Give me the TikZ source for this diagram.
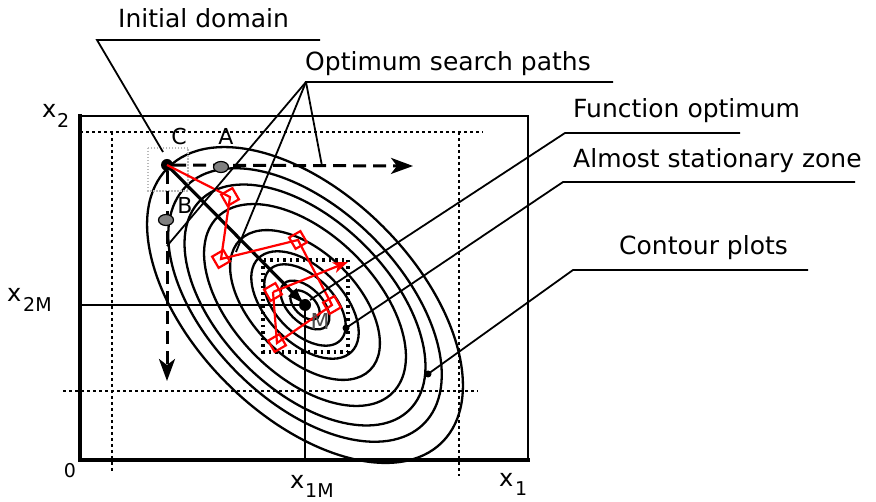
\documentclass[tikz,border=0pt]{standalone}
\usepackage{fontspec}
\setmainfont{DejaVu Sans}
\usetikzlibrary{arrows.meta,calc,shapes.geometric}

\tikzset{
  frameedge/.style={line width=2pt},
  frameaxis/.style={line width=3.5pt},
  contour/.style={line width=2.3pt},
  leader/.style={line width=1.8pt},
  guide/.style={line width=1.6pt, dash pattern=on 3pt off 3pt},
  zonebox/.style={line width=3.2pt, dash pattern=on 2.5pt off 4pt},
  searcharrow/.style={line width=3pt, dash pattern=on 13pt off 7pt,
    -{Stealth[length=22pt,width=16pt,inset=6pt]}},
  redpath/.style={red, line width=2.2pt},
  probe/.style={draw=red, line width=2.2pt, rectangle, minimum size=13pt,
    inner sep=0pt, rotate=30},
  caption/.style={font=\fontsize{25}{30}\selectfont, inner sep=0pt, anchor=base west},
  axislabel/.style={font=\fontsize{24}{28}\selectfont, inner sep=0pt, anchor=base west},
  sublabel/.style={font=\fontsize{19}{22}\selectfont, inner sep=0pt, anchor=base west},
  ptlabel/.style={font=\fontsize{22}{26}\selectfont, inner sep=0pt},
  bigdot/.style={circle, fill=black, minimum size=12pt, inner sep=0pt},
  smalldot/.style={circle, fill=black, minimum size=7pt, inner sep=0pt},
  trial/.style={ellipse, draw=black, fill=black!50, line width=1.2pt,
    minimum width=15pt, minimum height=11pt, inner sep=0pt},
}

\begin{document}
\begin{tikzpicture}[x=1pt,y=-1pt]
  \useasboundingbox (0,0) rectangle (876,502);

  % centre of the contour family
  \coordinate (O) at (305,305);

  % contour plots around the optimum
  \foreach \a in {18,30,50,66,92,124,148,168,194}
    \draw[contour, rotate around={-45:(O)}] (O) ellipse [x radius=\a, y radius={0.57*\a}];

  % frame of the search domain
  \draw[frameedge] (80,116) -- (528,116) -- (528,460);
  \draw[frameaxis, line cap=rect] (80,116) -- (80,460) -- (528,460);

  % dotted bounds of the domain
  \draw[guide] (80,132) -- (483,132);
  \draw[guide] (112,132) -- (112,473);
  \draw[guide] (459,132) -- (459,476);
  \draw[guide] (63,391) -- (478,391);

  % almost stationary zone
  \draw[zonebox] (263,260) rectangle (348,352);

  % initial domain box
  \draw[gray!55, line width=1.6pt, dash pattern=on 1.5pt off 1.5pt] (148,148) rectangle (188,191);

  % optimum and its coordinates
  \node[bigdot] (M) at (O) {};
  \draw[line width=1.6pt] (80,305) -- (M.center) -- (305,460);

  % start point and one-variable searches
  \node[bigdot] (C) at (167,165) {};
  \coordinate (htip) at (413,166);
  \coordinate (vtip) at (167,381);
  \draw[searcharrow] (C) -- (htip);
  \draw[searcharrow] (C) -- (vtip);
  \node[trial] (A) at (221,167) {};
  \node[trial] (B) at (166,220) {};

  % direct path to the optimum
  \draw[line width=3.2pt, -{Latex[length=18pt,width=12pt]}] (C.center) -- (M.center);

  % simplex-like search path
  \node[probe] (d1) at (230,197) {};
  \node[probe] (d2) at (221,259) {};
  \node[probe] (d3) at (298,240) {};
  \node[probe] (d4) at (332,305) {};
  \node[probe] (d5) at (277,343) {};
  \node[probe] (d6) at (273,292) {};
  \coordinate (rtip) at (348,262);
  \draw[redpath] (C.center) -- (d1.center) -- (d2.center) -- (d3.center)
    -- (d4.center) -- (d5.center) -- (d6.center);
  \draw[redpath, -{Stealth[length=15pt,width=11pt,inset=4pt]}] (d6.center) -- (rtip);

  % point labels
  \node[ptlabel] (lc) at (179,136) {C};
  \node[ptlabel] (la) at (226,136) {A};
  \node[ptlabel] (lb) at (185,205) {B};
  \node[ptlabel, text=black!70] (lm) at (320,321) {M};

  % marked contour points
  \node[smalldot] (zs) at (346,328) {};
  \node[smalldot] (cp) at (428,374) {};

  % axis labels
  \node[axislabel] (x2) at (42,118) {x};
  \node[sublabel] (x2s) at (57,128) {2};
  \node[axislabel] (x2m) at (7,302) {x};
  \node[sublabel] (x2ms) at (23,312) {2M};
  \node[axislabel] (x1m) at (290,489) {x};
  \node[sublabel] (x1ms) at (305,497) {1M};
  \node[axislabel] (x1) at (499,487) {x};
  \node[sublabel] (x1s) at (515,496) {1};
  \node[ptlabel, font=\fontsize{19}{22}\selectfont] (zero) at (70,471) {0};

  % captions
  \node[caption] (tid) at (118,28) {Initial domain};
  \node[caption] (tos) at (305,71) {Optimum search paths};
  \node[caption] (tfo) at (573,118) {Function optimum};
  \node[caption] (tas) at (573,168) {Almost stationary zone};
  \node[caption] (tcp) at (619,255) {Contour plots};

  % leader lines
  \coordinate (id1) at (320,40);
  \coordinate (id2) at (97,40);
  \coordinate (id3) at (163,152);
  \draw[leader] (id1) -- (id2) -- (id3);

  \coordinate (os1) at (613,82);
  \coordinate (os2) at (306,82);
  \coordinate (os3) at (322,166);
  \coordinate (os4) at (236,252);
  \coordinate (os5) at (167,246);
  \draw[leader] (os1) -- (os2) -- (os3);
  \draw[leader] (os2) -- (os4);
  \draw[leader] (os2) -- (os5);

  \coordinate (fo1) at (740,133);
  \coordinate (fo2) at (565,133);
  \coordinate (fo3) at (310,300);
  \draw[leader] (fo1) -- (fo2) -- (fo3);

  \coordinate (as1) at (855,182);
  \coordinate (as2) at (563,182);
  \draw[leader] (as1) -- (as2) -- (zs.center);

  \coordinate (cp1) at (808,270);
  \coordinate (cp2) at (573,270);
  \draw[leader] (cp1) -- (cp2) -- (cp.center);
\end{tikzpicture}
\end{document}
